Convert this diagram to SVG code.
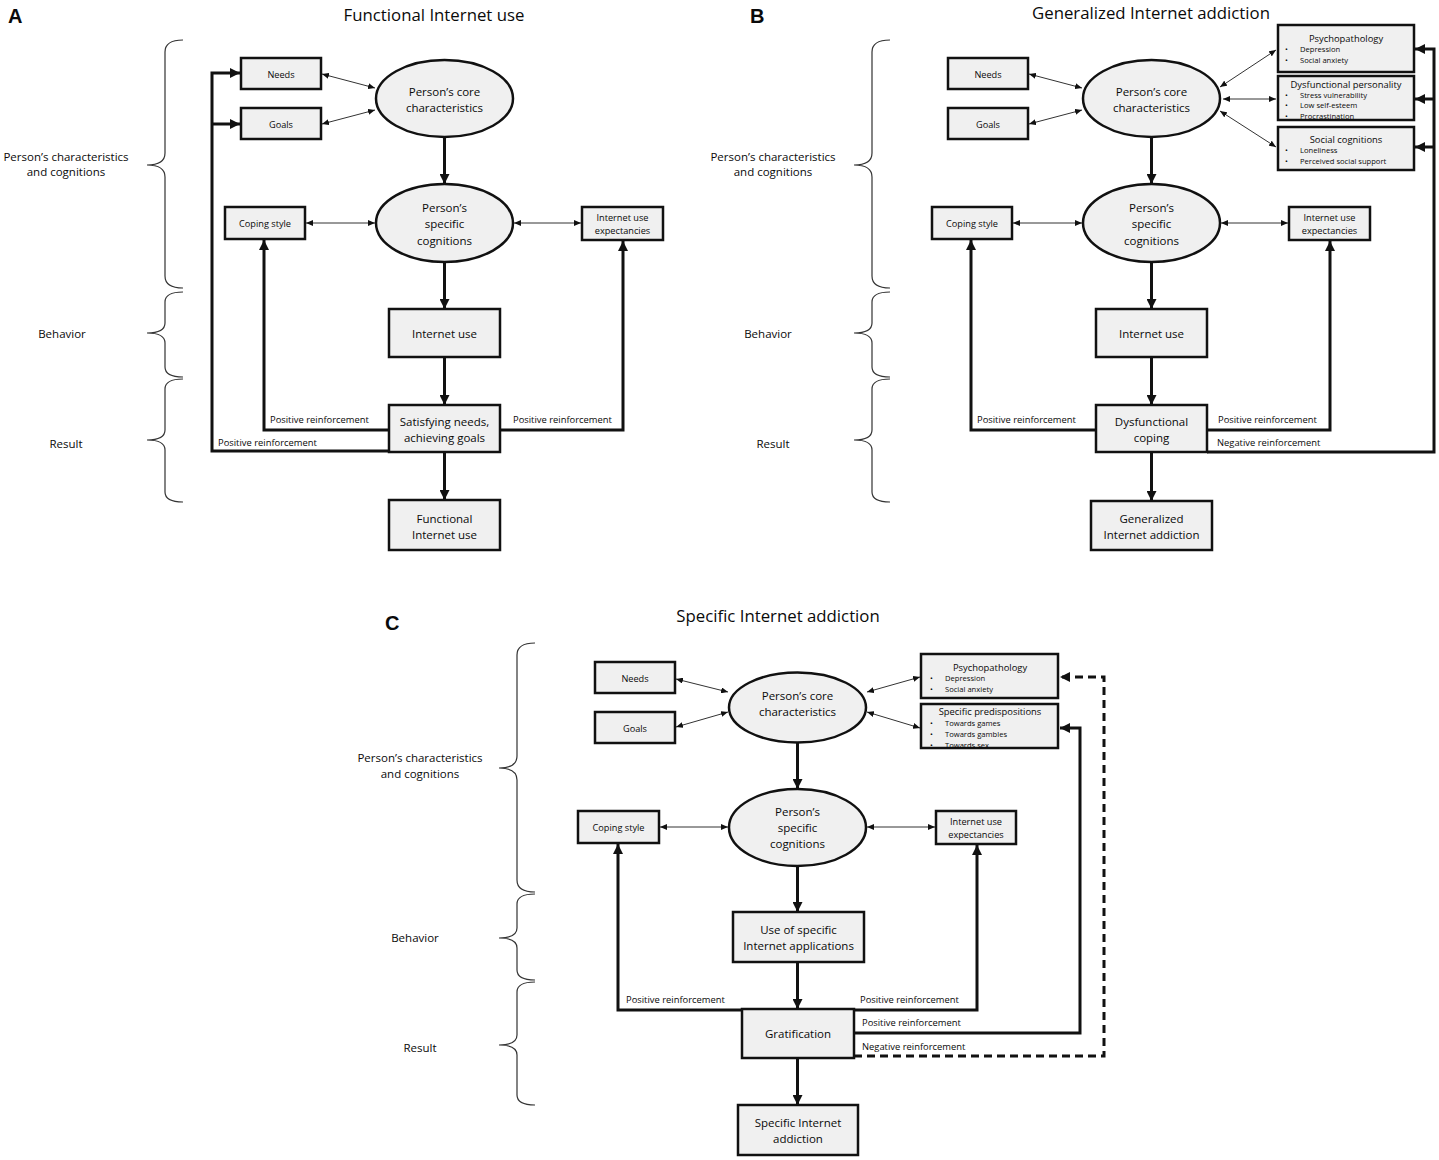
<svg xmlns="http://www.w3.org/2000/svg" width="1439" height="1160" viewBox="0 0 1439 1160">
<style>
text{font-family:"Open Sans","Liberation Sans",sans-serif;fill:#0a0a0a}
.box{fill:#f0f0f0;stroke:#111;stroke-width:2.5}
.t{font-size:11.5px;text-anchor:middle;dominant-baseline:central}
.s{font-size:9.2px;text-anchor:middle;dominant-baseline:central}
.bt{font-size:9.4px;text-anchor:middle;dominant-baseline:central}
.bl{font-size:7.6px;dominant-baseline:central}
.lab{font-size:9.4px;dominant-baseline:central}
.side{font-size:11.5px;text-anchor:middle;dominant-baseline:central}
.title{font-size:16.8px;text-anchor:middle;dominant-baseline:central}
.letter{font-family:"Liberation Sans",Arial,sans-serif;font-weight:bold;font-size:20px}
.thick{fill:none;stroke:#111;stroke-width:3;marker-end:url(#ah)}
.dash{fill:none;stroke:#111;stroke-width:3;stroke-dasharray:8,5;marker-end:url(#ah)}
.thin{fill:none;stroke:#333;stroke-width:1;marker-start:url(#sa);marker-end:url(#sa)}
.brace{fill:none;stroke:#333;stroke-width:1.2}
</style>
<defs>
<marker id="ah" viewBox="0 0 10 10" markerWidth="10" markerHeight="10" refX="10" refY="5" markerUnits="userSpaceOnUse" orient="auto"><path d="M0,0 L10,5 L0,10 z" fill="#111"/></marker>
<marker id="sa" viewBox="0 0 7 6" markerWidth="7" markerHeight="6" refX="7" refY="3" markerUnits="userSpaceOnUse" orient="auto-start-reverse"><path d="M0,0 L7,3 L0,6 z" fill="#111"/></marker>
</defs>
<rect width="1439" height="1160" fill="#fff"/>

<!-- Panel headings -->
<g id="headings">
<text class="letter" x="8" y="23">A</text>
<text class="title" x="434" y="14">Functional Internet use</text>
<text class="letter" x="750" y="23">B</text>
<text class="title" x="1151" y="12">Generalized Internet addiction</text>
<text class="letter" x="385" y="630">C</text>
<text class="title" x="778" y="615">Specific Internet addiction</text>
</g>

<!-- Braces and side labels -->
<g id="braces">
<path class="brace" d="M183,40 Q165,40 165,52 L165,153 Q165,165 147,165 Q165,165 165,177 L165,276 Q165,288 183,288"/>
<path class="brace" d="M183,292 Q165,292 165,302 L165,323 Q165,333 147,333 Q165,333 165,343 L165,367 Q165,377 183,377"/>
<path class="brace" d="M183,379 Q165,379 165,389 L165,430 Q165,440 147,440 Q165,440 165,450 L165,492 Q165,502 183,502"/>
<path class="brace" d="M890,40 Q872,40 872,52 L872,153 Q872,165 854,165 Q872,165 872,177 L872,276 Q872,288 890,288"/>
<path class="brace" d="M890,292 Q872,292 872,302 L872,323 Q872,333 854,333 Q872,333 872,343 L872,367 Q872,377 890,377"/>
<path class="brace" d="M890,379 Q872,379 872,389 L872,430 Q872,440 854,440 Q872,440 872,450 L872,492 Q872,502 890,502"/>
<path class="brace" d="M535,643 Q517,643 517,655 L517,756 Q517,768 499,768 Q517,768 517,780 L517,880 Q517,892 535,892"/>
<path class="brace" d="M535,894 Q517,894 517,904 L517,928 Q517,938 499,938 Q517,938 517,948 L517,970 Q517,980 535,980"/>
<path class="brace" d="M535,982 Q517,982 517,992 L517,1035 Q517,1045 499,1045 Q517,1045 517,1055 L517,1095 Q517,1105 535,1105"/>
<text class="side" x="66" y="156">Person’s characteristics</text>
<text class="side" x="66" y="171">and cognitions</text>
<text class="side" x="62" y="333">Behavior</text>
<text class="side" x="66" y="443">Result</text>
<text class="side" x="773" y="156">Person’s characteristics</text>
<text class="side" x="773" y="171">and cognitions</text>
<text class="side" x="768" y="333">Behavior</text>
<text class="side" x="773" y="443">Result</text>
<text class="side" x="420" y="757">Person’s characteristics</text>
<text class="side" x="420" y="773">and cognitions</text>
<text class="side" x="415" y="937">Behavior</text>
<text class="side" x="420" y="1047">Result</text>
</g>

<!-- Connectors -->
<g id="connectors">
<!-- Panel A -->
<line class="thin" x1="322" y1="74" x2="375" y2="88"/>
<line class="thin" x1="322" y1="124" x2="375" y2="110"/>
<line class="thin" x1="306" y1="223" x2="375" y2="223"/>
<line class="thin" x1="514" y1="223" x2="581" y2="223"/>
<line class="thick" x1="444.5" y1="137" x2="444.5" y2="184"/>
<line class="thick" x1="444.5" y1="262" x2="444.5" y2="309"/>
<line class="thick" x1="444.5" y1="357" x2="444.5" y2="405"/>
<line class="thick" x1="444.5" y1="452" x2="444.5" y2="500"/>
<polyline class="thick" points="389,430 264,430 264,240"/>
<polyline class="thick" points="500,430 623,430 623,241"/>
<polyline class="thick" points="389,451 212,451 212,73 240,73"/>
<polyline class="thick" points="212,124 240,124"/>
<text class="lab" x="270" y="419">Positive reinforcement</text>
<text class="lab" x="218" y="442">Positive reinforcement</text>
<text class="lab" x="513" y="419">Positive reinforcement</text>
<!-- Panel B -->
<line class="thin" x1="1029" y1="74" x2="1082" y2="88"/>
<line class="thin" x1="1029" y1="124" x2="1082" y2="110"/>
<line class="thin" x1="1013" y1="223" x2="1082" y2="223"/>
<line class="thin" x1="1221" y1="223" x2="1288" y2="223"/>
<line class="thin" x1="1220" y1="87" x2="1276" y2="50"/>
<line class="thin" x1="1223" y1="99" x2="1276" y2="99"/>
<line class="thin" x1="1220" y1="111" x2="1276" y2="147"/>
<line class="thick" x1="1151.5" y1="137" x2="1151.5" y2="184"/>
<line class="thick" x1="1151.5" y1="262" x2="1151.5" y2="309"/>
<line class="thick" x1="1151.5" y1="357" x2="1151.5" y2="405"/>
<line class="thick" x1="1151.5" y1="452" x2="1151.5" y2="501"/>
<polyline class="thick" points="1096,430 971,430 971,240"/>
<polyline class="thick" points="1207,430 1330,430 1330,241"/>
<polyline class="thick" points="1207,452 1434,452 1434,49 1415,49"/>
<polyline class="thick" points="1434,99 1415,99"/>
<polyline class="thick" points="1434,147 1415,147"/>
<text class="lab" x="977" y="419">Positive reinforcement</text>
<text class="lab" x="1218" y="419">Positive reinforcement</text>
<text class="lab" x="1217" y="442">Negative reinforcement</text>
<!-- Panel C -->
<line class="thin" x1="676" y1="679" x2="728" y2="692"/>
<line class="thin" x1="676" y1="727" x2="728" y2="712"/>
<line class="thin" x1="867" y1="692" x2="920" y2="677"/>
<line class="thin" x1="867" y1="712" x2="920" y2="728"/>
<line class="thin" x1="660" y1="827" x2="728" y2="827"/>
<line class="thin" x1="867" y1="827" x2="935" y2="827"/>
<line class="thick" x1="797.5" y1="742" x2="797.5" y2="789"/>
<line class="thick" x1="797.5" y1="866" x2="797.5" y2="912"/>
<line class="thick" x1="797.5" y1="962" x2="797.5" y2="1009"/>
<line class="thick" x1="797.5" y1="1058" x2="797.5" y2="1105"/>
<polyline class="thick" points="742,1010 618,1010 618,844"/>
<polyline class="thick" points="854,1010 977,1010 977,845"/>
<polyline class="thick" points="854,1033 1080,1033 1080,728 1060,728"/>
<polyline class="dash" points="854,1056 1104,1056 1104,677 1060,677"/>
<text class="lab" x="626" y="999">Positive reinforcement</text>
<text class="lab" x="860" y="999">Positive reinforcement</text>
<text class="lab" x="862" y="1022">Positive reinforcement</text>
<text class="lab" x="862" y="1046">Negative reinforcement</text>
</g>

<!-- Panel A nodes -->
<g id="A-needs"><rect class="box" x="241" y="58" width="80" height="31"/><text class="s" x="281" y="74">Needs</text></g>
<g id="A-goals"><rect class="box" x="241" y="108" width="80" height="31"/><text class="s" x="281" y="124">Goals</text></g>
<g id="A-core"><ellipse class="box" cx="444.5" cy="98.5" rx="68.5" ry="38.5"/><text class="t" x="444.5" y="91">Person’s core</text><text class="t" x="444.5" y="107">characteristics</text></g>
<g id="A-specific"><ellipse class="box" cx="444.5" cy="223" rx="68.5" ry="39"/><text class="t" x="444.5" y="207">Person’s</text><text class="t" x="444.5" y="223">specific</text><text class="t" x="444.5" y="240">cognitions</text></g>
<g id="A-coping"><rect class="box" x="225" y="207" width="80" height="32"/><text class="s" x="265" y="223">Coping style</text></g>
<g id="A-expect"><rect class="box" x="582" y="207" width="81" height="33"/><text class="s" x="622.5" y="217">Internet use</text><text class="s" x="622.5" y="230">expectancies</text></g>
<g id="A-use"><rect class="box" x="389" y="309" width="111" height="48"/><text class="t" x="444.5" y="333">Internet use</text></g>
<g id="A-satisfy"><rect class="box" x="389" y="405" width="111" height="47"/><text class="t" x="444.5" y="421">Satisfying needs,</text><text class="t" x="444.5" y="437">achieving goals</text></g>
<g id="A-functional"><rect class="box" x="389" y="500" width="111" height="50"/><text class="t" x="444.5" y="518">Functional</text><text class="t" x="444.5" y="534">Internet use</text></g>

<!-- Panel B nodes -->
<g id="B-needs"><rect class="box" x="948" y="58" width="80" height="31"/><text class="s" x="988" y="74">Needs</text></g>
<g id="B-goals"><rect class="box" x="948" y="108" width="80" height="31"/><text class="s" x="988" y="124">Goals</text></g>
<g id="B-core"><ellipse class="box" cx="1151.5" cy="98.5" rx="68.5" ry="38.5"/><text class="t" x="1151.5" y="91">Person’s core</text><text class="t" x="1151.5" y="107">characteristics</text></g>
<g id="B-specific"><ellipse class="box" cx="1151.5" cy="223" rx="68.5" ry="39"/><text class="t" x="1151.5" y="207">Person’s</text><text class="t" x="1151.5" y="223">specific</text><text class="t" x="1151.5" y="240">cognitions</text></g>
<g id="B-coping"><rect class="box" x="932" y="207" width="80" height="32"/><text class="s" x="972" y="223">Coping style</text></g>
<g id="B-expect"><rect class="box" x="1289" y="207" width="81" height="33"/><text class="s" x="1329.5" y="217">Internet use</text><text class="s" x="1329.5" y="230">expectancies</text></g>
<g id="B-use"><rect class="box" x="1096" y="309" width="111" height="48"/><text class="t" x="1151.5" y="333">Internet use</text></g>
<g id="B-dyscoping"><rect class="box" x="1096" y="405" width="111" height="47"/><text class="t" x="1151.5" y="421">Dysfunctional</text><text class="t" x="1151.5" y="437">coping</text></g>
<g id="B-generalized"><rect class="box" x="1091" y="501" width="121" height="49"/><text class="t" x="1151.5" y="518">Generalized</text><text class="t" x="1151.5" y="534">Internet addiction</text></g>
<g id="B-psycho"><rect class="box" x="1278" y="25" width="136" height="47"/><text class="bt" x="1346" y="38">Psychopathology</text><text class="bl" x="1285" y="49">•</text><text class="bl" x="1300" y="49">Depression</text><text class="bl" x="1285" y="60">•</text><text class="bl" x="1300" y="60">Social anxiety</text></g>
<g id="B-personality"><rect class="box" x="1278" y="76" width="136" height="44"/><text class="bt" x="1346" y="84">Dysfunctional personality</text><text class="bl" x="1285" y="95">•</text><text class="bl" x="1300" y="95">Stress vulnerability</text><text class="bl" x="1285" y="105">•</text><text class="bl" x="1300" y="105">Low self-esteem</text><text class="bl" x="1285" y="116">•</text><text class="bl" x="1300" y="116">Procrastination</text></g>
<g id="B-social"><rect class="box" x="1278" y="127" width="136" height="43"/><text class="bt" x="1346" y="139">Social cognitions</text><text class="bl" x="1285" y="150">•</text><text class="bl" x="1300" y="150">Loneliness</text><text class="bl" x="1285" y="161">•</text><text class="bl" x="1300" y="161">Perceived social support</text></g>

<!-- Panel C nodes -->
<g id="C-needs"><rect class="box" x="595" y="662" width="80" height="31"/><text class="s" x="635" y="678">Needs</text></g>
<g id="C-goals"><rect class="box" x="595" y="712" width="80" height="31"/><text class="s" x="635" y="728">Goals</text></g>
<g id="C-core"><ellipse class="box" cx="797.5" cy="707.5" rx="68.5" ry="35"/><text class="t" x="797.5" y="695">Person’s core</text><text class="t" x="797.5" y="711">characteristics</text></g>
<g id="C-specific"><ellipse class="box" cx="797.5" cy="827.5" rx="68.5" ry="38.5"/><text class="t" x="797.5" y="811">Person’s</text><text class="t" x="797.5" y="827">specific</text><text class="t" x="797.5" y="843">cognitions</text></g>
<g id="C-coping"><rect class="box" x="578" y="811" width="81" height="32"/><text class="s" x="618.5" y="827">Coping style</text></g>
<g id="C-expect"><rect class="box" x="936" y="811" width="80" height="33"/><text class="s" x="976" y="821">Internet use</text><text class="s" x="976" y="834">expectancies</text></g>
<g id="C-use"><rect class="box" x="733" y="912" width="131" height="50"/><text class="t" x="798.5" y="929">Use of specific</text><text class="t" x="798.5" y="945">Internet applications</text></g>
<g id="C-grat"><rect class="box" x="742" y="1009" width="112" height="49"/><text class="t" x="798" y="1033">Gratification</text></g>
<g id="C-specific-addiction"><rect class="box" x="738" y="1105" width="120" height="50"/><text class="t" x="798" y="1122">Specific Internet</text><text class="t" x="798" y="1138">addiction</text></g>
<g id="C-psycho"><rect class="box" x="921" y="654" width="137" height="44"/><text class="bt" x="990" y="667">Psychopathology</text><text class="bl" x="930" y="678">•</text><text class="bl" x="945" y="678">Depression</text><text class="bl" x="930" y="689">•</text><text class="bl" x="945" y="689">Social anxiety</text></g>
<g id="C-predisp"><rect class="box" x="921" y="704" width="137" height="44"/><text class="bt" x="990" y="711">Specific predispositions</text><text class="bl" x="930" y="723">•</text><text class="bl" x="945" y="723">Towards games</text><text class="bl" x="930" y="734">•</text><text class="bl" x="945" y="734">Towards gambles</text><text class="bl" x="930" y="745">•</text><text class="bl" x="945" y="745">Towards sex</text></g>
</svg>
